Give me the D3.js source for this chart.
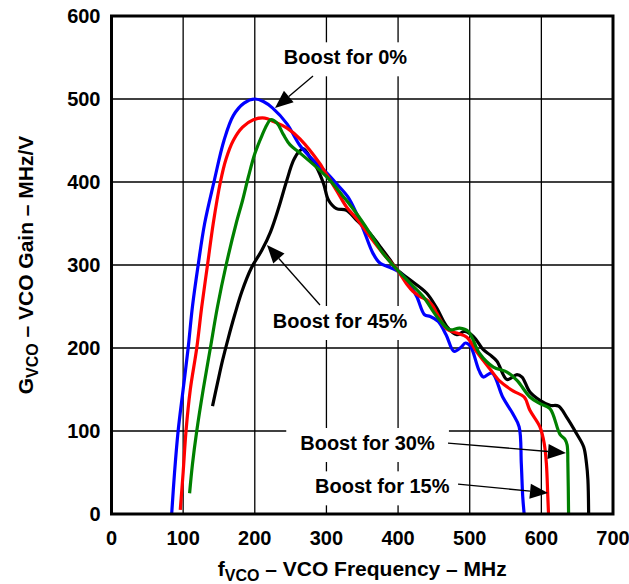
<!DOCTYPE html>
<html>
<head>
<meta charset="utf-8">
<script src="https://cdn.jsdelivr.net/npm/d3@7"></script>
<style>
  body { margin: 0; background: #fff; }
  svg { display: block; }
  text { font-family: Arial, "Liberation Sans", sans-serif; font-weight: bold; fill: #000; }
</style>
</head>
<body>
<svg id="chart" width="629" height="584"></svg>
<script>
// Axis ticks
const xTicks = [0, 100, 200, 300, 400, 500, 600, 700];
const yTicks = [0, 100, 200, 300, 400, 500, 600];

// VCO gain (MHz/V) versus VCO frequency (MHz), one pair of arrays per boost setting
const freqBoost0 = [84, 88, 93, 100, 107, 113, 121, 130, 143, 157, 170, 185, 200, 212, 225, 245, 263, 282, 298, 314, 330, 342, 352, 365, 375, 389, 399, 412, 426, 437, 445, 456, 467, 478, 488, 494, 501, 513, 519, 531, 546, 560, 569, 572, 574, 576];
const gainBoost0 = [0, 50, 100, 150, 200, 250, 300, 350, 400, 450, 480, 495, 500, 497, 489, 470, 444, 426, 413, 398, 382, 362, 342, 314, 302, 297, 293, 282, 262, 240, 238, 232, 216, 196, 201, 206, 202, 173, 165, 170, 141, 121, 105, 61, 21, 0];

const freqBoost15 = [96, 100, 104, 110, 119, 126, 134, 142, 152, 160, 170, 183, 198, 214, 226, 245, 263, 291, 296, 314, 328, 342, 361, 379, 399, 412, 421, 431, 440, 449, 454, 468, 482, 496, 510, 528, 542, 561, 576, 584, 598, 604, 607, 609, 610];
const gainBoost15 = [5, 50, 100, 150, 200, 250, 300, 350, 400, 428, 450, 466, 475, 477, 473, 465, 452, 422, 415, 390, 370, 356, 334, 314, 294, 277, 268, 262, 258, 250, 242, 223, 218, 213, 195, 175, 160, 148, 141, 125, 105, 85, 61, 21, 0];

const freqBoost30 = [109, 113, 119, 128, 138, 148, 160, 174, 183, 191, 200, 210, 217, 222, 231, 240, 249, 263, 291, 305, 324, 342, 361, 379, 399, 417, 435, 454, 472, 486, 498, 514, 533, 552, 566, 584, 598, 612, 626, 633, 636, 637, 638];
const gainBoost30 = [25, 60, 100, 150, 200, 250, 300, 350, 378, 406, 434, 456, 469, 475, 471, 457, 445, 435, 414, 402, 382, 362, 338, 314, 294, 278, 262, 238, 222, 224, 220, 193, 177, 171, 161, 141, 133, 127, 96, 90, 83, 61, 0];

const freqBoost45 = [141, 148, 155, 163, 172, 182, 195, 210, 222, 233, 244, 254, 262, 268, 279, 286, 296, 303, 314, 328, 342, 361, 375, 389, 399, 417, 440, 454, 468, 482, 493, 505, 519, 528, 538, 552, 566, 573, 584, 598, 612, 624, 635, 649, 659, 663, 665, 666];
const gainBoost45 = [130, 158, 185, 212, 240, 268, 296, 318, 340, 368, 400, 426, 437, 440, 427, 418, 398, 378, 368, 366, 354, 338, 322, 306, 294, 282, 266, 248, 226, 216, 220, 214, 198, 192, 184, 162, 168, 165, 147, 137, 131, 130, 117, 97, 81, 61, 41, 0];

const seriesNames = ["Boost for 45%", "Boost for 0%", "Boost for 15%", "Boost for 30%"];
const seriesFreq = [freqBoost45, freqBoost0, freqBoost15, freqBoost30];
const seriesGain = [gainBoost45, gainBoost0, gainBoost15, gainBoost30];
const seriesColors = ["#000000", "#0000ff", "#ff0000", "#008000"];

// Callout labels (data units): text anchor point, arrow start and arrow tip
const calloutText = ["Boost for 0%", "Boost for 45%", "Boost for 30%", "Boost for 15%"];
const calloutAt = [[326.6, 541.8], [319, 224.1], [357.3, 77.1], [378, 24.9]];
const calloutFrom = [[281.3, 527.7], [291, 251.8], [469.7, 85.5], [483.7, 36.1]];
const calloutTip = [[228.2, 489.2], [217, 324.1], [634.4, 73.5], [609.3, 25.3]];

const svg = d3.select("#chart");
const margin = { left: 111.5, top: 16, right: 16, bottom: 70 };
const W = 629, H = 584;

const x = d3.scaleLinear().domain([0, 700]).range([margin.left, W - margin.right]);
const y = d3.scaleLinear().domain([0, 600]).range([H - margin.bottom, margin.top]);

// Grid
const grid = svg.append("g").attr("stroke", "#000").attr("stroke-width", 1.3);
grid.selectAll("line.v").data(xTicks.slice(1, -1)).join("line")
  .attr("x1", d => x(d)).attr("x2", d => x(d))
  .attr("y1", y(0)).attr("y2", y(600));
grid.selectAll("line.h").data(yTicks.slice(1, -1)).join("line")
  .attr("y1", d => y(d)).attr("y2", d => y(d))
  .attr("x1", x(0)).attr("x2", x(700));

// White boxes behind callout text (break the grid)
const fontSize = 20;
const labels = svg.append("g");
calloutText.forEach((t, i) => {
  const g = labels.append("g");
  const rect = g.append("rect").attr("fill", "#fff");
  const txt = g.append("text")
    .attr("x", x(calloutAt[i][0])).attr("y", y(calloutAt[i][1]))
    .attr("text-anchor", "middle").attr("font-size", fontSize).text(t);
  const bb = txt.node().getBBox();
  const base = y(calloutAt[i][1]);
  rect.attr("x", bb.x - 14).attr("width", bb.width + 28)
      .attr("y", base - 22).attr("height", 34);
});

// Curves
const line = d3.line().curve(d3.curveCatmullRom.alpha(0.5));
seriesNames.forEach((name, i) => {
  const pts = seriesFreq[i].map((f, k) => [x(f), y(seriesGain[i][k])]);
  svg.append("path")
    .attr("d", line(pts))
    .attr("fill", "none")
    .attr("stroke", seriesColors[i])
    .attr("stroke-width", 3.2)
    .attr("stroke-linejoin", "round");
});

// Callout arrows
const arrows = svg.append("g");
calloutText.forEach((t, i) => {
  const x0 = x(calloutFrom[i][0]), y0 = y(calloutFrom[i][1]);
  const x1 = x(calloutTip[i][0]), y1 = y(calloutTip[i][1]);
  const dx = x1 - x0, dy = y1 - y0, len = Math.hypot(dx, dy);
  const ux = dx / len, uy = dy / len;
  const hl = 18, hw = 7.5;
  const bx = x1 - ux * hl, by = y1 - uy * hl;
  arrows.append("line")
    .attr("x1", x0).attr("y1", y0).attr("x2", bx).attr("y2", by)
    .attr("stroke", "#000").attr("stroke-width", 1.3);
  arrows.append("path")
    .attr("d", `M${x1},${y1}L${bx - uy * hw},${by + ux * hw}L${bx + uy * hw},${by - ux * hw}Z`)
    .attr("fill", "#000");
});

// Frame
svg.append("rect")
  .attr("x", x(0)).attr("y", y(600))
  .attr("width", x(700) - x(0)).attr("height", y(0) - y(600))
  .attr("fill", "none").attr("stroke", "#000").attr("stroke-width", 3);

// Tick labels
svg.append("g").selectAll("text").data(xTicks).join("text")
  .attr("x", d => x(d)).attr("y", y(0) + 31)
  .attr("text-anchor", "middle").attr("font-size", fontSize)
  .text(d => d);
svg.append("g").selectAll("text").data(yTicks).join("text")
  .attr("x", x(0) - 11).attr("y", d => y(d)).attr("dy", "0.36em")
  .attr("text-anchor", "end").attr("font-size", fontSize)
  .text(d => d);

// Axis titles
const xTitle = svg.append("text")
  .attr("x", (x(0) + x(700)) / 2).attr("y", 576)
  .attr("text-anchor", "middle").attr("font-size", 21);
xTitle.append("tspan").text("f");
xTitle.append("tspan").attr("font-size", 16).attr("dy", 5).text("VCO");
xTitle.append("tspan").attr("dy", -5).text(" – VCO Frequency – MHz");

const yTitle = svg.append("text")
  .attr("transform", `translate(33,${(y(0) + y(600)) / 2}) rotate(-90)`)
  .attr("text-anchor", "middle").attr("font-size", 21);
yTitle.append("tspan").text("G");
yTitle.append("tspan").attr("font-size", 16).attr("dy", 5).text("VCO");
yTitle.append("tspan").attr("dy", -5).text(" – VCO Gain – MHz/V");
</script>
</body>
</html>
